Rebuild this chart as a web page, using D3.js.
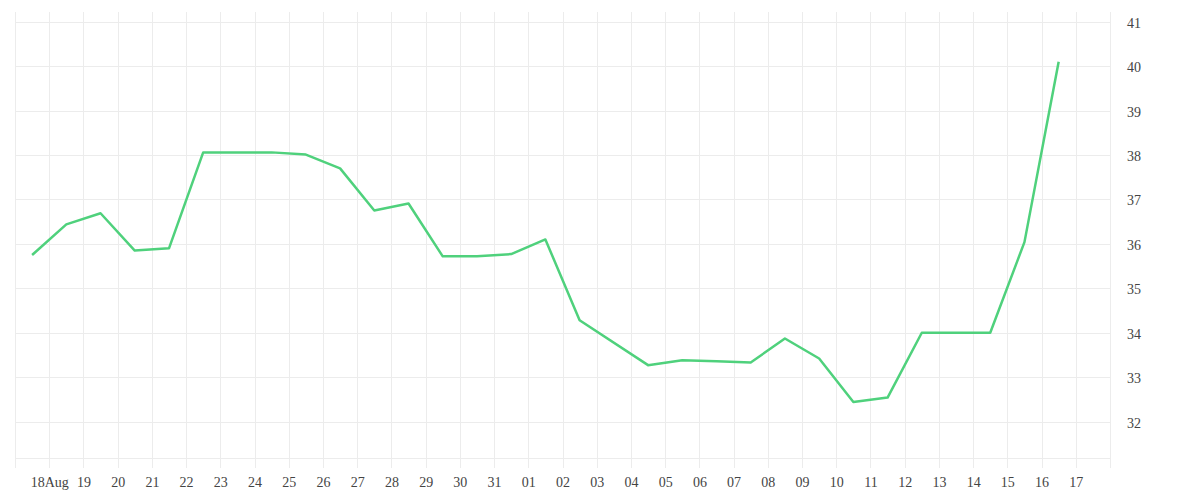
<!DOCTYPE html>
<html>
<head>
<meta charset="utf-8">
<script src="https://cdn.jsdelivr.net/npm/d3@7"></script>
<style>
  body { margin: 0; background: #fff; }
  .tick text { font-family: "Liberation Serif", serif; font-size: 14px; fill: #444; }
</style>
</head>
<body>
<script>

// daily values, one per day (drawn at noon)
var days = ["2020-08-17", "2020-08-18", "2020-08-19", "2020-08-20", "2020-08-21",
    "2020-08-22", "2020-08-23", "2020-08-24", "2020-08-25", "2020-08-26",
    "2020-08-27", "2020-08-28", "2020-08-29", "2020-08-30", "2020-08-31",
    "2020-09-01", "2020-09-02", "2020-09-04", "2020-09-05", "2020-09-06",
    "2020-09-07", "2020-09-08", "2020-09-09", "2020-09-10", "2020-09-11",
    "2020-09-12", "2020-09-13", "2020-09-14", "2020-09-15", "2020-09-16"];
var values = [35.75, 36.44, 36.69, 35.85, 35.90,
    38.06, 38.06, 38.06, 38.01, 37.70,
    36.75, 36.91, 35.72, 35.72, 35.77,
    36.10, 34.28, 33.27, 33.38, 33.36,
    33.33, 33.87, 33.42, 32.44, 32.54,
    34.0, 34.0, 34.0, 36.04, 40.10];
var yTicks = [32, 33, 34, 35, 36, 37, 38, 39, 40, 41];

var parse = d3.timeParse("%Y-%m-%d");
var data = [];
for (i = 0; i < days.length; i++) {
    data.push({ date: d3.timeHour.offset(parse(days[i]), 12), value: values[i] });
}

var w = 1200, h = 500;
var plotLeft = 15, plotRight = 1110, plotTop = 12, plotBottom = 458;

var x = d3.scaleTime()
    .domain([parse("2020-08-17"), parse("2020-09-18")])
    .range([plotLeft, plotRight]);

var y = d3.scaleLinear()
    .domain([31.18, 41.22])
    .range([plotBottom, plotTop]);

var svg = d3.select("body")
    .append("svg")
    .attr("width", w)
    .attr("height", h);

var gridDays = d3.timeDay.range(parse("2020-08-17"), d3.timeDay.offset(parse("2020-09-18"), 1));

// vertical grid, runs past the bottom as tick marks
svg.append("g")
    .selectAll("line")
    .data(gridDays)
    .enter()
    .append("line")
    .attr("x1", function (d) { return Math.round(x(d)) + 0.5; })
    .attr("x2", function (d) { return Math.round(x(d)) + 0.5; })
    .attr("y1", plotTop)
    .attr("y2", plotBottom + 10)
    .attr("stroke", "#ececec")
    .attr("stroke-width", 1);

// horizontal grid
svg.append("g")
    .selectAll("line")
    .data(yTicks)
    .enter()
    .append("line")
    .attr("x1", plotLeft)
    .attr("x2", plotRight)
    .attr("y1", function (d) { return Math.round(y(d)) + 0.5; })
    .attr("y2", function (d) { return Math.round(y(d)) + 0.5; })
    .attr("stroke", "#ececec");

svg.append("line")
    .attr("x1", plotLeft).attr("x2", plotRight)
    .attr("y1", plotBottom + 0.5).attr("y2", plotBottom + 0.5)
    .attr("stroke", "#ececec");

// x labels
var labelDays = d3.timeDay.range(parse("2020-08-18"), parse("2020-09-18"));
var xAxis = d3.axisBottom(x)
    .tickValues(labelDays)
    .tickSize(0)
    .tickPadding(0)
    .tickFormat(function (d, i) {
        return i == 0 ? d3.timeFormat("%d%b")(d) : d3.timeFormat("%d")(d);
    });

svg.append("g")
    .attr("transform", "translate(0," + 477 + ")")
    .call(xAxis)
    .call(function (g) { g.select(".domain").remove(); });

// y labels on the right
var yAxis = d3.axisRight(y)
    .tickValues(yTicks)
    .tickSize(0)
    .tickPadding(17)
    .tickFormat(d3.format("d"));

svg.append("g")
    .attr("transform", "translate(" + plotRight + ",1)")
    .call(yAxis)
    .call(function (g) { g.select(".domain").remove(); });

var line = d3.line()
    .x(function (d) { return x(d.date); })
    .y(function (d) { return y(d.value); });

svg.append("path")
    .datum(data)
    .attr("d", line)
    .attr("fill", "none")
    .attr("stroke", "#4fd17c")
    .attr("stroke-width", 2.5)
    .attr("stroke-linejoin", "round");

</script>
</body>
</html>
